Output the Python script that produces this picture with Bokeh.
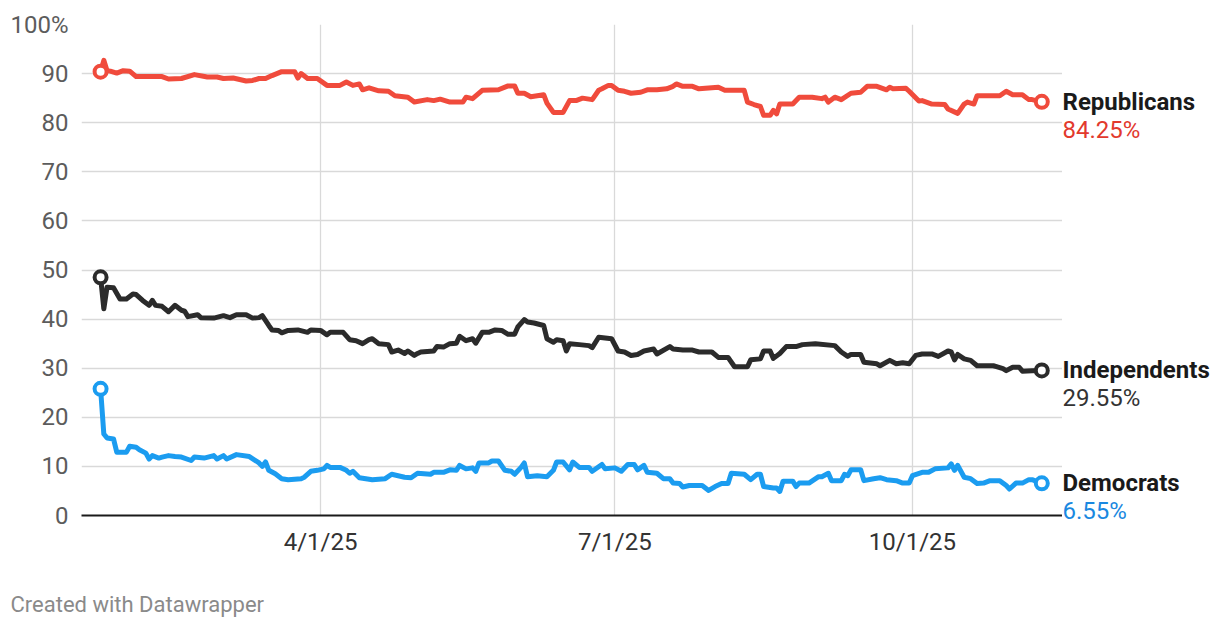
from bokeh.plotting import figure
from bokeh.layouts import row
from bokeh.models import Range1d, FixedTicker, ColumnDataSource, Title
from bokeh.embed import file_html
from bokeh.resources import INLINE
from bokeh.core.properties import value
from datetime import datetime

# ---------------- data (day = days since 2025-01-01) ----------------
x_tick_labels = ["4/1/25", "7/1/25", "10/1/25"]
y_ticks = [0, 10, 20, 30, 40, 50, 60, 70, 80, 90, 100]
series_names = ["Republicans", "Independents", "Democrats"]

rep_day = [22, 23, 24, 25, 27, 29, 31, 33, 41, 43, 47, 51, 55, 58, 60, 63, 67, 69, 71, 73, 75, 78,
           82, 83, 84, 86, 89, 92, 96, 98, 100, 102, 103, 105, 108, 111, 113, 117, 119, 123, 125,
           127, 130, 134, 135, 137, 140, 145, 148, 150, 151, 153, 155, 159, 160, 162, 165, 167,
           169, 171, 174, 176, 177, 179, 180, 182, 184, 186, 189, 191, 194, 197, 199, 200, 202,
           205, 207, 211, 213, 215, 221, 222, 224, 226, 227, 229, 230, 231, 232, 236, 238, 242,
           245, 246, 247, 249, 251, 254, 257, 259, 262, 265, 266, 267, 271, 272, 275, 276, 279,
           283, 284, 287, 289, 290, 292, 293, 300, 302, 304, 307, 309, 310, 313]
rep_val = [90.4, 92.7, 90.6, 90.5, 90.1, 90.6, 90.5, 89.4, 89.4, 88.9, 89.0, 89.8, 89.3, 89.3, 89.0,
           89.1, 88.5, 88.6, 89.0, 89.0, 89.6, 90.4, 90.4, 89.1, 90.0, 89.0, 89.0, 87.6, 87.6, 88.3,
           87.6, 87.9, 86.7, 87.1, 86.5, 86.4, 85.5, 85.2, 84.2, 84.7, 84.5, 84.8, 84.2, 84.2, 85.2,
           84.9, 86.6, 86.7, 87.5, 87.5, 86.0, 86.0, 85.3, 85.7, 84.0, 82.1, 82.1, 84.5, 84.5, 85.0,
           84.7, 86.6, 86.9, 87.6, 87.6, 86.6, 86.4, 86.0, 86.2, 86.7, 86.7, 86.9, 87.4, 87.9, 87.4,
           87.4, 86.9, 87.1, 87.2, 86.6, 86.6, 84.2, 83.7, 83.3, 81.5, 81.5, 82.5, 81.8, 83.8, 83.8,
           85.2, 85.2, 84.9, 85.2, 84.2, 85.2, 84.7, 86.0, 86.2, 87.4, 87.4, 86.7, 87.2, 86.9, 87.0,
           86.4, 84.4, 84.5, 83.8, 83.7, 82.8, 81.9, 83.8, 84.2, 83.8, 85.5, 85.5, 86.4, 85.7, 85.7,
           84.7, 84.7, 84.25]

ind_day = [22, 23, 24, 26, 28, 30, 32, 33, 35, 37, 38, 39, 41, 43, 45, 47, 48, 49, 52, 53, 57, 60,
           62, 64, 67, 69, 71, 72, 74, 75, 77, 78, 80, 83, 86, 87, 90, 92, 93, 97, 99, 101, 103,
           105, 106, 108, 111, 112, 114, 116, 117, 119, 120, 121, 125, 126, 128, 130, 132, 133,
           135, 137, 138, 140, 142, 144, 146, 148, 150, 151, 153, 154, 156, 159, 160, 162, 163,
           165, 166, 167, 170, 173, 174, 176, 180, 182, 184, 186, 188, 190, 193, 194, 198, 199,
           202, 205, 207, 211, 213, 216, 218, 222, 223, 226, 227, 229, 230, 232, 234, 237, 239,
           243, 249, 251, 253, 254, 257, 258, 262, 263, 266, 268, 270, 272, 274, 276, 279, 281,
           284, 285, 286, 287, 289, 291, 293, 298, 299, 301, 302, 304, 306, 307, 310, 313]
ind_val = [48.5, 42.1, 46.5, 46.4, 44.1, 44.1, 45.1, 45.0, 43.8, 42.8, 43.8, 42.8, 42.6, 41.5, 42.8,
           41.8, 41.6, 40.5, 40.9, 40.3, 40.2, 40.7, 40.3, 40.9, 40.9, 40.2, 40.3, 40.7, 38.7, 37.8,
           37.7, 37.2, 37.7, 37.8, 37.3, 37.8, 37.7, 36.8, 37.3, 37.3, 35.8, 35.6, 35.0, 35.8, 36.0,
           35.0, 34.8, 33.3, 33.7, 33.0, 33.5, 32.6, 33.0, 33.3, 33.5, 34.4, 34.3, 35.0, 35.1, 36.5,
           35.6, 36.0, 35.1, 37.3, 37.3, 37.8, 37.7, 36.9, 36.9, 38.4, 39.9, 39.4, 39.2, 38.7, 36.0,
           35.3, 35.8, 35.6, 33.5, 35.0, 34.8, 34.6, 34.2, 36.3, 36.0, 33.5, 33.3, 32.6, 32.8, 33.5,
           33.9, 32.9, 34.4, 33.9, 33.7, 33.7, 33.3, 33.3, 32.2, 32.2, 30.3, 30.3, 31.7, 31.9, 33.5,
           33.5, 32.0, 33.0, 34.4, 34.4, 34.8, 35.0, 34.6, 33.3, 32.4, 32.8, 32.8, 31.2, 30.9, 30.5,
           31.6, 30.9, 31.1, 30.9, 32.6, 32.9, 32.9, 32.4, 33.5, 33.3, 31.7, 32.8, 31.9, 31.6, 30.5,
           30.5, 30.3, 29.9, 29.5, 30.2, 30.2, 29.4, 29.5, 29.55]

dem_day = [22, 23, 24, 26, 27, 30, 31, 33, 34, 36, 37, 38, 40, 41, 43, 45, 47, 50, 51, 54, 57, 58,
           60, 61, 64, 68, 71, 72, 73, 74, 76, 78, 80, 84, 85, 87, 89, 91, 92, 93, 96, 98, 99, 100,
           102, 106, 110, 112, 114, 116, 118, 120, 124, 125, 128, 130, 132, 133, 135, 137, 138,
           139, 142, 143, 145, 147, 149, 150, 152, 153, 154, 157, 160, 162, 163, 165, 167, 168,
           170, 173, 174, 177, 178, 181, 183, 185, 187, 188, 190, 191, 194, 196, 198, 199, 201,
           202, 204, 208, 210, 212, 214, 216, 217, 221, 223, 225, 226, 227, 230, 231, 232, 233,
           236, 237, 238, 241, 244, 245, 247, 248, 251, 252, 253, 254, 257, 258, 261, 263, 265,
           268, 270, 272, 273, 276, 278, 280, 284, 285, 286, 287, 289, 291, 293, 295, 297, 300,
           302, 303, 305, 307, 309, 310, 313]
dem_val = [25.8, 16.6, 15.8, 15.6, 12.9, 12.9, 14.1, 13.9, 13.4, 12.7, 11.5, 12.2, 11.7, 11.9, 12.2,
           12.0, 11.9, 11.2, 11.9, 11.7, 12.2, 11.5, 12.2, 11.5, 12.4, 12.0, 10.7, 10.0, 10.9, 9.2,
           8.5, 7.5, 7.3, 7.5, 7.8, 9.0, 9.2, 9.5, 10.2, 9.8, 9.8, 9.2, 8.6, 9.0, 7.7, 7.3, 7.5,
           8.4, 8.1, 7.8, 7.7, 8.6, 8.4, 8.8, 8.8, 9.3, 9.2, 10.2, 9.5, 9.7, 9.0, 10.7, 10.7, 11.1,
           11.1, 9.2, 9.0, 8.4, 9.8, 10.7, 7.9, 8.1, 7.9, 9.2, 10.9, 10.9, 9.3, 10.9, 9.8, 9.8,
           9.0, 10.4, 9.5, 9.7, 9.0, 10.4, 10.4, 9.3, 10.2, 8.8, 8.6, 7.5, 7.5, 6.6, 6.5, 5.8, 6.1,
           6.1, 5.1, 5.9, 6.5, 6.5, 8.6, 8.4, 7.3, 8.4, 8.4, 5.9, 5.6, 5.6, 4.9, 7.0, 7.0, 5.9,
           6.6, 6.6, 7.9, 7.9, 8.6, 7.1, 7.1, 8.4, 8.1, 9.3, 9.3, 7.1, 7.5, 7.7, 7.3, 7.1, 6.6,
           6.6, 8.1, 8.8, 8.8, 9.5, 9.7, 10.5, 9.2, 10.2, 7.8, 7.5, 6.5, 6.6, 7.1, 7.1, 6.1, 5.4,
           6.6, 6.6, 7.3, 7.3, 6.55]

# ---------------- styling ----------------
line_colors = ["#f04b3c", "#2b2b2b", "#1b9cf0"]
value_colors = ["#e2392d", "#333333", "#1a88e0"]
FONT = "Roboto"
TOP, BOTTOM, FRAME_H = 24, 109, 491
EXTRA = 50  # extra pixels below the label panel so the last value label is not clipped

year_start = datetime(2025, 1, 1)
x_ticks = [(datetime.strptime(t, "%m/%d/%y") - year_start).days for t in x_tick_labels]

p = figure(frame_width=981, frame_height=FRAME_H, output_backend="svg", toolbar_location=None,
           x_range=Range1d(16.1, 319.4), y_range=Range1d(0, 100),
           min_border_left=81, min_border_right=0, min_border_top=TOP, min_border_bottom=BOTTOM,
           background_fill_color="white", border_fill_color="white")
p.outline_line_color = None

# grids
p.ygrid.ticker = FixedTicker(ticks=y_ticks[1:])
p.xgrid.ticker = FixedTicker(ticks=x_ticks)
for g in (p.xgrid, p.ygrid):
    g.grid_line_color = "#d9d9d9"
    g.grid_line_width = 1.3

# y axis
ya = p.yaxis[0]
ya.ticker = FixedTicker(ticks=y_ticks)
ya.major_label_overrides = {100: "100%"}
ya.axis_line_color = None
ya.major_tick_line_color = None
ya.major_tick_out = 0
ya.major_tick_in = 0
ya.minor_tick_line_color = None
ya.major_label_standoff = 13
ya.major_label_text_font = FONT
ya.major_label_text_font_size = "24px"
ya.major_label_text_color = "#5c5c5c"

# x axis
xa = p.xaxis[0]
xa.ticker = FixedTicker(ticks=x_ticks)
xa.major_label_overrides = {t: l for t, l in zip(x_ticks, x_tick_labels)}
xa.axis_line_color = "#1a1a1a"
xa.axis_line_width = 2
xa.major_tick_line_color = None
xa.major_tick_out = 0
xa.major_tick_in = 0
xa.minor_tick_line_color = None
xa.major_label_standoff = 12
xa.major_label_text_font = FONT
xa.major_label_text_font_size = "24px"
xa.major_label_text_color = "#333333"

all_days = [rep_day, ind_day, dem_day]
all_vals = [rep_val, ind_val, dem_val]

for d, v, c in zip(all_days, all_vals, line_colors):
    p.line(d, v, line_color=c, line_width=5, line_join="round", line_cap="round")
    p.scatter([d[0], d[-1]], [v[0], v[-1]], size=12, fill_color="white",
              line_color=c, line_width=4)

# footer
p.add_layout(Title(text="Created with Datawrapper", align="left", offset=-71,
                   text_font=FONT, text_font_size="22px", text_font_style="normal",
                   text_color="#8a8a8a", standoff=62), "below")

# right-hand label panel (same vertical scale, a bit taller at the bottom)
q = figure(frame_width=150, frame_height=FRAME_H + EXTRA, output_backend="svg",
           toolbar_location=None, x_range=Range1d(0, 150),
           y_range=Range1d(-EXTRA * 100.0 / FRAME_H, 100),
           x_axis_type=None, y_axis_type=None,
           min_border_left=0, min_border_right=0, min_border_top=TOP,
           min_border_bottom=BOTTOM - EXTRA,
           background_fill_color="white", border_fill_color="white")
q.outline_line_color = None
q.xgrid.visible = False
q.ygrid.visible = False

lab_src = ColumnDataSource(dict(
    x=[0, 0, 0],
    y=[v[-1] for v in all_vals],
    name=series_names,
    val=[f"{v[-1]:.2f}%" for v in all_vals],
    vcol=value_colors,
))
q.text(x="x", y="y", text="name", source=lab_src, x_offset=0, y_offset=0,
       text_baseline="middle", text_align="left", text_font=value(FONT),
       text_font_size="24px", text_font_style="bold", text_color="#1a1a1a")
q.text(x="x", y="y", text="val", source=lab_src, x_offset=0, y_offset=28,
       text_baseline="middle", text_align="left", text_font=value(FONT),
       text_font_size="24px", text_color="vcol")

layout = row(p, q)
open("out.html", "w").write(file_html(layout, INLINE))
